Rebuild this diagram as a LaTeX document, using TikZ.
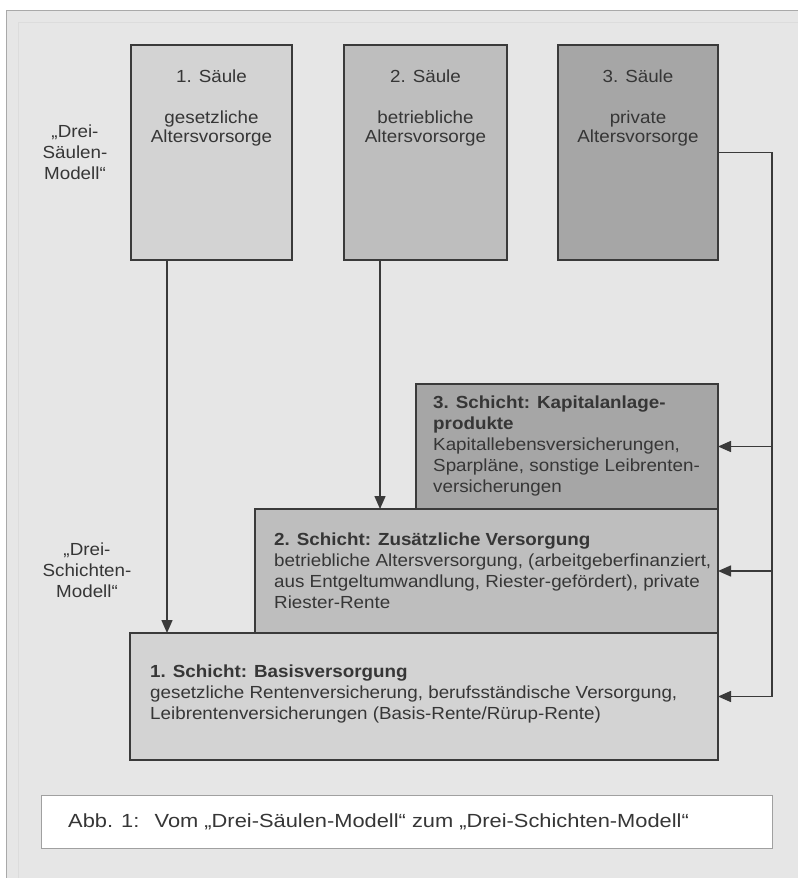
\documentclass[tikz,border=0pt]{standalone}
\usepackage{fontspec}
\setmainfont{Liberation Sans}[FakeStretch=1.075]
\newfontfamily\capfont{Liberation Sans}[FakeStretch=1.15]
\usetikzlibrary{arrows.meta}
\definecolor{bg}{HTML}{E6E6E6}
\definecolor{bgline}{HTML}{A9A9A9}
\definecolor{bgfaint}{HTML}{DCDCDC}
\definecolor{c1}{HTML}{D3D3D3}
\definecolor{c2}{HTML}{BEBEBE}
\definecolor{c3}{HTML}{A6A6A6}
\definecolor{edge}{HTML}{3A3A3A}
\definecolor{txt}{HTML}{363636}
\definecolor{capline}{HTML}{A0A0A0}
\begin{document}
\begin{tikzpicture}[x=1pt,y=-1pt,
  pillar/.style={draw=edge, line width=1.8pt, minimum width=161pt, minimum height=215pt, inner sep=0pt, outer sep=0pt, anchor=north west},
  layer/.style={draw=edge, line width=1.8pt, inner sep=0pt, outer sep=0pt, anchor=north west},
  ptext/.style={text=txt, align=center, inner sep=0pt, font=\fontsize{17.5}{19}\selectfont},
  ltext/.style={text=txt, align=left, inner sep=0pt, anchor=west, font=\fontsize{17.5}{21}\selectfont},
  side/.style={text=txt, align=center, inner sep=0pt, font=\fontsize{17.5}{21}\selectfont},
  conn/.style={draw=edge, line width=1.5pt},
  arr/.style={draw=edge, line width=1.5pt, -{Triangle[length=13pt,width=11pt]}},
]
\useasboundingbox (0,0) rectangle (798,878);
\fill[white] (0,0) rectangle (798,878);
\fill[bg] (6,10) rectangle (798,878);
\draw[bgline, line width=1pt] (6.5,878) -- (6.5,10.5) -- (798,10.5);
\draw[bgfaint, line width=1pt] (18.5,878) -- (18.5,22.5) -- (798,22.5);

% pillars
\node[pillar, fill=c1] (p1) at (131,45) {};
\node[pillar, fill=c2, minimum width=163pt] (p2) at (344,45) {};
\node[pillar, fill=c3, minimum width=160pt] (p3) at (558,45) {};
\node[ptext] (p1a) at (p1.north |- 0,76) {1. Säule};
\node[ptext] (p1b) at (p1.north |- 0,128.5) {gesetzliche\\Altersvorsorge};
\node[ptext] (p2a) at (p2.north |- 0,76) {2. Säule};
\node[ptext] (p2b) at (p2.north |- 0,128.5) {betriebliche\\Altersvorsorge};
\node[ptext] (p3a) at (p3.north |- 0,76) {3. Säule};
\node[ptext] (p3b) at (p3.north |- 0,128.5) {private\\Altersvorsorge};

% side labels
\node[side] (s1) at (75,152) {„Drei-\\Säulen-\\Modell“};
\node[side] (s2) at (87,570) {„Drei-\\Schichten-\\Modell“};

% layers
\node[layer, fill=c2, minimum width=463pt, minimum height=124pt] (l2) at (255,509) {};
\node[layer, fill=c3, minimum width=302pt, minimum height=125pt] (l3) at (416,384) {};
\node[layer, fill=c1, minimum width=588pt, minimum height=127pt] (l1) at (130,633) {};

\node[ltext] (l3t) at (433,446) {\textbf{3. Schicht: Kapitalanlage-}\\\textbf{produkte}\\Kapitallebensversicherungen,\\Sparpläne, sonstige Leibrenten-\\versicherungen};
\node[ltext] (l2t) at (274,571) {\textbf{2. Schicht: Zusätzliche Versorgung}\\betriebliche Altersversorgung, (arbeitgeberfinanziert,\\aus Entgeltumwandlung, Riester-gefördert), private\\Riester-Rente};
\node[ltext] (l1t) at (150,694) {\textbf{1. Schicht: Basisversorgung}\\gesetzliche Rentenversicherung, berufsständische Versorgung,\\Leibrentenversicherungen (Basis-Rente/Rürup-Rente)};

% connectors
\coordinate (x1) at (167,0);
\coordinate (x2) at (380,0);
\coordinate (bt) at (772,152.5);
\coordinate (bb) at (772,696.5);
\draw[arr] (p1.south -| x1) -- (l1.north -| x1);
\draw[arr] (p2.south -| x2) -- (l2.north -| x2);
\draw[conn] (p3.east) -- (bt) -- (bb);
\draw[arr] (bb) -- (l1.east);
\draw[arr] (bt |- l2.east) -- (l2.east);
\draw[arr] (bt |- l3.east) -- (l3.east);

% caption
\node[draw=capline, fill=white, line width=1pt, minimum width=731pt, minimum height=53pt, inner sep=0pt, anchor=north west] (cap) at (41,795) {};
\node[text=txt, inner sep=0pt, anchor=west, font=\capfont\fontsize{19}{21}\selectfont] (capt) at (68,822) {Abb. 1:\hspace{0.8em}Vom „Drei-Säulen-Modell“ zum „Drei-Schichten-Modell“};
\end{tikzpicture}
\end{document}
